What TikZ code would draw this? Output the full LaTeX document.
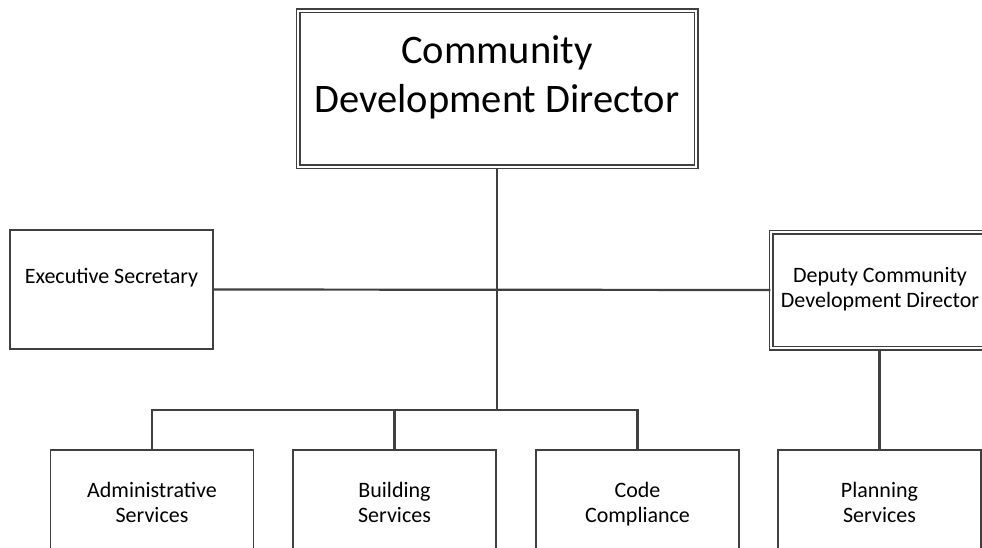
\documentclass[tikz,border=0pt]{standalone}
\usepackage{fontspec}
\setmainfont{Carlito}
\usepackage{tikz}
\usetikzlibrary{positioning,calc}

\definecolor{boxgray}{HTML}{404040}

\begin{document}
\begin{tikzpicture}[x=1pt, y=-1pt,
  unit/.style={draw=boxgray, line width=1.4pt, fill=white, minimum width=203pt, minimum height=109pt,
        align=center, font=\fontsize{22}{25}\selectfont, inner sep=0pt, text depth=5pt},
  headunit/.style={unit, double=white, double distance=2.6pt, line width=1.2pt},
  conn/.style={draw=boxgray, line width=2.2pt},
  lbl/.style={align=center, inner sep=0pt}]
\useasboundingbox (0,0) rectangle (982,548);
\clip (0,0) rectangle (982,548);
% top of the chart
\node[headunit, minimum width=398pt, minimum height=156pt] (dir) at (497,89) {};
\node[lbl, font=\fontsize{40.5}{49}\selectfont] (dirT) at ([yshift=12pt]dir.center) {Community\\Development Director};
% second level
\node[unit, minimum height=119pt] (exec) at (111.5,289.5) {};
\node[lbl, font=\fontsize{22}{25}\selectfont, text height=15pt, text depth=5pt] (execT)
  at ([yshift=11.5pt]exec.center) {Executive Secretary};
\node[headunit, minimum width=218pt, minimum height=116pt] (dep) at (880,290)
  {Deputy Community\\Development Director};
% bottom row
\foreach \n/\x/\lab in {admin/152/{Administrative\\Services},build/394.5/{Building\\Services},
                        code/637.5/{Code\\Compliance},plan/879.5/{Planning\\Services}} {
  \node[unit] (\n) at (\x,504.5) {\lab};
}
\coordinate (bus) at (dir.south |- 0,410);
\draw[conn] (exec.east) -- (dep.west);
\draw[conn] (dir.south) -- (bus);
\draw[conn] (admin.north) |- (bus) -| (code.north);
\draw[conn] (build.north) -- (build.north |- bus);
\draw[conn] (dep.south -| plan.north) -- (plan.north);
\end{tikzpicture}
\end{document}
